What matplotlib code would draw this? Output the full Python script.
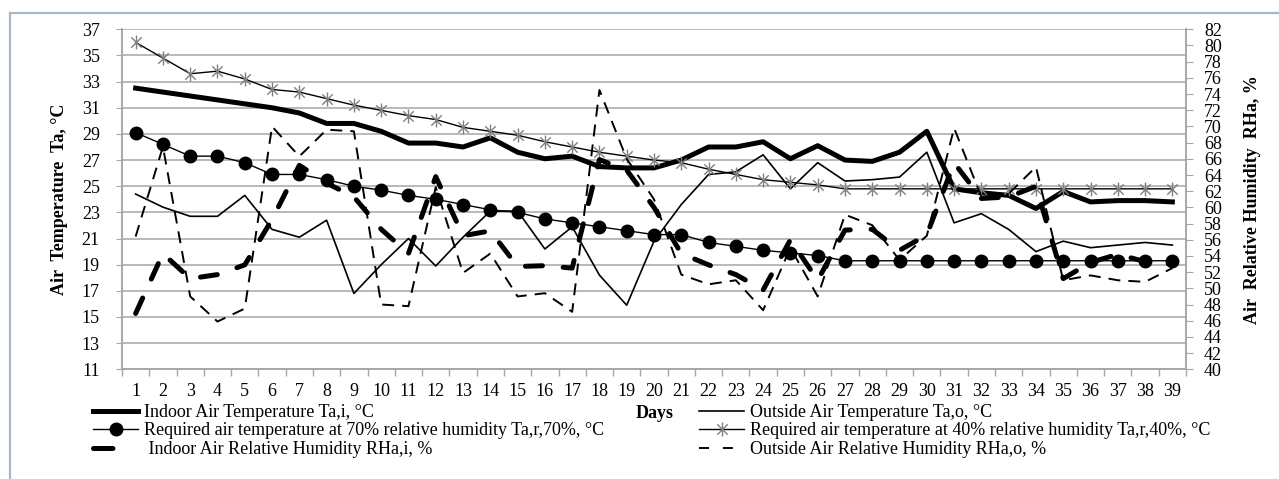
import matplotlib
matplotlib.use("Agg")
import matplotlib.pyplot as plt
from matplotlib.path import Path
from matplotlib.lines import Line2D

plt.rcParams['font.family'] = ['Liberation Serif', 'DejaVu Serif']

days = list(range(1, 40))

# air temperatures, degC
ta_in = [32.5, 32.2, 31.9, 31.6, 31.3, 31.0, 30.6, 29.8, 29.8, 29.2,
         28.3, 28.3, 28.0, 28.7, 27.6, 27.1, 27.3, 26.5, 26.4, 26.4,
         27.0, 28.0, 28.0, 28.4, 27.1, 28.1, 27.0, 26.9, 27.6, 29.2,
         24.8, 24.5, 24.3, 23.3, 24.6, 23.8, 23.9, 23.9, 23.8]
ta_out = [24.4, 23.4, 22.7, 22.7, 24.3, 21.7, 21.1, 22.4, 16.8, 19.0,
          21.0, 18.9, 21.1, 23.1, 23.1, 20.2, 21.9, 18.2, 15.9, 20.8,
          23.6, 25.9, 26.1, 27.4, 24.8, 26.8, 25.4, 25.5, 25.7, 27.6,
          22.2, 22.9, 21.7, 20.0, 20.8, 20.3, 20.5, 20.7, 20.5]
ta_r70 = [29.1, 28.2, 27.3, 27.3, 26.8, 25.9, 25.9, 25.5, 25.0, 24.7,
          24.3, 24.0, 23.6, 23.2, 23.0, 22.5, 22.2, 21.9, 21.6, 21.3,
          21.3, 20.7, 20.4, 20.1, 19.9, 19.7, 19.3, 19.3, 19.3, 19.3,
          19.3, 19.3, 19.3, 19.3, 19.3, 19.3, 19.3, 19.3, 19.3]
ta_r40 = [36.0, 34.8, 33.6, 33.8, 33.2, 32.4, 32.2, 31.7, 31.2, 30.8,
          30.4, 30.1, 29.5, 29.2, 28.9, 28.4, 28.0, 27.6, 27.3, 27.0,
          26.8, 26.3, 25.9, 25.5, 25.3, 25.1, 24.8, 24.8, 24.8, 24.8,
          24.8, 24.8, 24.8, 24.8, 24.8, 24.8, 24.8, 24.8, 24.8]

# relative humidity, %
rh_in = [46.9, 54.3, 51.2, 51.7, 52.9, 58.5, 65.2, 63.0, 61.3, 57.3,
         54.3, 63.8, 56.5, 57.1, 52.7, 52.8, 52.5, 65.9, 64.6, 60.0,
         54.3, 52.9, 51.7, 49.8, 56.0, 51.0, 57.2, 57.3, 54.7, 56.6,
         65.5, 61.1, 61.3, 62.6, 51.2, 53.2, 54.2, 53.3, 53.0]
rh_out = [56.4, 67.5, 49.0, 45.9, 47.5, 70.0, 66.3, 69.6, 69.4, 48.0,
          47.8, 62.5, 51.9, 54.3, 49.0, 49.4, 47.1, 74.5, 66.0, 61.0,
          51.7, 50.5, 51.0, 47.3, 55.0, 49.0, 59.1, 57.8, 53.5, 56.5,
          69.8, 61.3, 61.7, 65.0, 51.0, 51.6, 51.0, 50.8, 52.5]

labels = ['Indoor Air Temperature Ta,i, \u00b0C',
          'Outside Air Temperature Ta,o, \u00b0C',
          'Required air temperature at 70% relative humidity Ta,r,70%, \u00b0C',
          'Required air temperature at 40% relative humidity Ta,r,40%, \u00b0C',
          ' Indoor Air Relative Humidity RHa,i, %',
          'Outside Air Relative Humidity RHa,o, %']

GRID = '#a6a6a6'
FS = 13

# asterisk-like marker: vertical bar plus an X
star = Path([(0, -1), (0, 1), (-0.75, -0.75), (0.75, 0.75), (-0.75, 0.75), (0.75, -0.75)],
            [Path.MOVETO, Path.LINETO] * 3)

fig = plt.figure(figsize=(12.79, 4.79), dpi=100)
ax = fig.add_axes([122 / 1279, 1 - 369.3 / 479, 1064 / 1279, 340 / 479])
ax2 = ax.twinx()

l_in, = ax.plot(days, ta_in, color='black', lw=3.6, solid_joinstyle='round')
l_out, = ax.plot(days, ta_out, color='black', lw=1.2)
l_70, = ax.plot(days, ta_r70, color='black', lw=1.0, marker='o', ms=9,
                mfc='black', mec='black')
l_40, = ax.plot(days, ta_r40, color='black', lw=1.0, marker=star, ms=10,
                mfc='none', mec='#7f7f7f', mew=1.0)

lw_thick = 3.6
lw_thin = 1.4
ax2.plot(days, rh_in, color='black', lw=lw_thick,
         linestyle=(0, (12.2 / lw_thick, 15.0 / lw_thick)), dash_capstyle='round')
ax2.plot(days, rh_out, color='black', lw=lw_thin,
         linestyle=(0, (8.6 / lw_thin, 5.8 / lw_thin)))

# legend keys for the humidity series (one long dash / two short dashes)
h_rhi = Line2D([], [], color='black', lw=lw_thick, dash_capstyle='round',
               linestyle=(0, (14.0 / lw_thick, 30 / lw_thick)))
h_rho = Line2D([], [], color='black', lw=lw_thin,
               linestyle=(0, (7.2 / lw_thin, 10 / lw_thin)))

ax.set_xlim(0.5, 39.5)
ax.set_ylim(11, 37)
ax2.set_ylim(40, 82)
ax.set_yticks(range(11, 38, 2))
ax2.set_yticks(range(40, 83, 2))
ax.set_xticks(days)
ax.set_xticks([d + 0.5 for d in range(0, 40)], minor=True)
ax.tick_params(axis='x', which='major', length=0, labelsize=FS, pad=10)
ax.tick_params(axis='x', which='minor', length=5, color=GRID, width=1)
ax.tick_params(axis='y', length=4, color=GRID, labelsize=FS, pad=12)
ax2.tick_params(axis='y', length=5, color=GRID, labelsize=FS, pad=8)

ax.grid(axis='y', color=GRID, lw=1.1)
ax.set_axisbelow(True)
for a in (ax, ax2):
    a.spines['top'].set_visible(False)
    for s in ('left', 'right', 'bottom'):
        a.spines[s].set_color(GRID)
        a.spines[s].set_linewidth(1.1)

ax.set_ylabel('Air  Temperature  Ta, \u00b0C', fontsize=FS, fontweight='bold', labelpad=10)
ax2.set_ylabel('Air  Relative Humidity  RHa, %', fontsize=FS, fontweight='bold', labelpad=16)

fig.text(655 / 1279, 1 - 414 / 479, 'Days', fontsize=FS, fontweight='bold',
         ha='center', va='center')

leg_kw = dict(loc='upper left', frameon=False, fontsize=FS, handlelength=2.5,
              handletextpad=0.3, labelspacing=0.08, borderpad=0, borderaxespad=0)
fig.legend([l_in, l_70, h_rhi], [labels[0], labels[2], labels[4]],
           bbox_to_anchor=(93 / 1279, 1 - 404 / 479), **leg_kw)
fig.legend([l_out, l_40, h_rho], [labels[1], labels[3], labels[5]],
           bbox_to_anchor=(699 / 1279, 1 - 404 / 479), **leg_kw)

# chart area border, light blue-grey
border = '#a7b7c8'
fig.add_artist(Line2D([10 / 1279, 10 / 1279], [0, 1 - 13 / 479], color=border, lw=1.6,
                      transform=fig.transFigure))
fig.add_artist(Line2D([10 / 1279, 1], [1 - 13 / 479, 1 - 13 / 479], color=border, lw=1.6,
                      transform=fig.transFigure))

fig.savefig('out.png', dpi=100)
